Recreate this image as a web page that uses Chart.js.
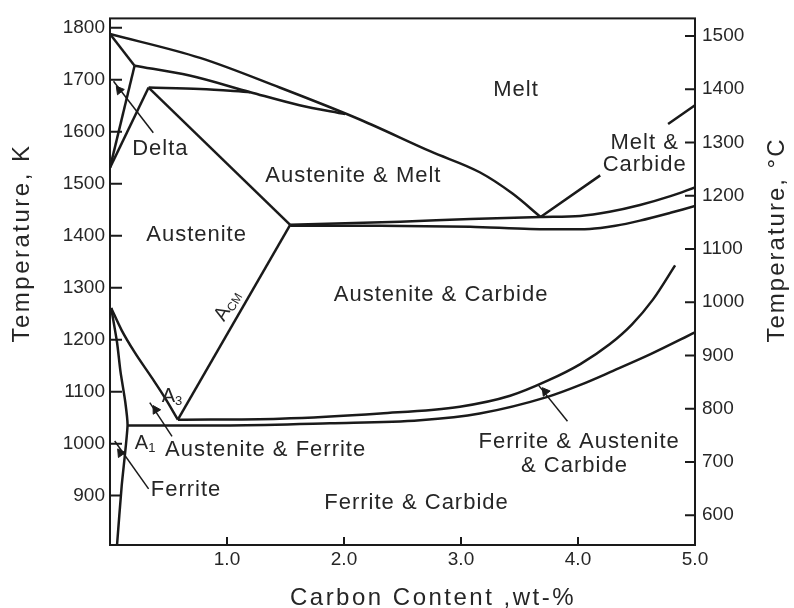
<!DOCTYPE html>
<html>
<head>
<meta charset="utf-8">
<script src="https://cdn.jsdelivr.net/npm/chart.js@4.4.1/dist/chart.umd.min.js"></script>
<style>
  html, body { margin: 0; padding: 0; background: #fff; }
  canvas { display: block; }
</style>
</head>
<body>
<canvas id="phaseChart" width="794" height="608"></canvas>
<script>
// Fe-C phase diagram, lines
// every boundary is a list of [carbon wt-%, temperature K]

const carbonTicks = [1, 2, 3, 4, 5];
const kelvinTicks = [900, 1000, 1100, 1200, 1300, 1400, 1500, 1600, 1700, 1800];
const celsiusTicks = [600, 700, 800, 900, 1000, 1100, 1200, 1300, 1400, 1500];

const liquidus = [[0, 1788], [0.77, 1742], [1.45, 1685], [2.14, 1623], [2.74, 1562], [3.16, 1522], [3.44, 1481], [3.68, 1436]];
const deltaMelt = [[0, 1788], [0.21, 1727]];
const deltaUpper = [[0.21, 1727], [0.68, 1708], [1.2, 1676], [1.62, 1651], [2.01, 1634]];
const peritectic = [[0.33, 1685], [0.77, 1682], [1.2, 1676]];
const deltaLeft = [[0.21, 1727], [0, 1531]];
const deltaRight = [[0.33, 1685], [0, 1531]];
const solidus = [[0.33, 1685], [1.54, 1421]];
const acm = [[1.54, 1421], [0.58, 1046]];
const a3 = [[0.01, 1261], [0.10, 1218], [0.21, 1176], [0.36, 1126], [0.47, 1088], [0.58, 1046]];
const ferriteLine = [[0.01, 1261], [0.06, 1195], [0.09, 1138], [0.13, 1081], [0.15, 1035], [0.10, 919], [0.06, 805]];
const eutecticUpper = [[1.54, 1421], [2.48, 1427], [3.08, 1432], [3.68, 1436], [4.02, 1438], [4.27, 1446], [4.53, 1459], [4.79, 1476], [5.0, 1493]];
const eutecticLower = [[1.54, 1419], [2.31, 1419], [3.08, 1417], [3.59, 1413], [4.10, 1413], [4.32, 1419], [4.53, 1429], [4.79, 1444], [5.0, 1457]];
const carbideLiquidus = [[3.68, 1436], [4.19, 1516], [4.5, null], [4.77, 1615], [5.0, 1651]];
const eutectoidUpper = [[0.58, 1046], [1.45, 1048], [2.31, 1058], [2.99, 1071], [3.42, 1092], [3.74, 1121], [4.02, 1153], [4.27, 1191], [4.46, 1229], [4.64, 1277], [4.83, 1343]];
const eutectoidLower = [[0.15, 1035], [1.03, 1035], [1.88, 1039], [2.65, 1045], [3.16, 1058], [3.74, 1090], [4.02, 1113], [4.30, 1140], [4.62, 1172], [5.0, 1214]];

// leader lines from labels, and their arrow heads
const deltaLeader = [[0.37, 1598], [0.03, 1697]];
const a3Leader = [[0.53, 1014], [0.34, 1079]];
const ferriteLeader = [[0.33, 913], [0.04, 1005]];
const threePhaseLeader = [[3.91, 1043], [3.66, 1113]];
const arrowHeads = [[0.08, 1680], [0.39, 1065], [0.09, 982], [3.72, 1100]];
const arrowAngles = [-38, -31, -35, -37];

const regionLabels = [
  ['Melt', 3.47, 1680],
  ['Delta', 0.43, 1567],
  ['Austenite & Melt', 2.08, 1514],
  ['Melt &', 4.57, 1579],
  ['Carbide', 4.57, 1537],
  ['Austenite', 0.74, 1402],
  ['Austenite & Carbide', 2.83, 1286],
  ['Austenite & Ferrite', 1.33, 988],
  ['Ferrite', 0.65, 910],
  ['Ferrite & Austenite', 4.01, 1003],
  ['& Carbide', 3.97, 957],
  ['Ferrite & Carbide', 2.62, 885]
];
// letter, subscript, x, y, angle
const lineLabels = [
  ['A', '3', 0.53, 1094, 0],
  ['A', '1', 0.30, 1003, 0],
  ['A', 'CM', 0.99, 1267, -60]
];

const xTitle = 'Carbon Content ,wt-%';
const yTitle = 'Temperature, K';
const y2Title = 'Temperature, °C';

const family = '"Liberation Sans", Arial, Helvetica, sans-serif';
const ink = '#1a1a1a';

function boundary(points, tension) {
  return {
    data: points,
    borderColor: ink,
    borderWidth: 2.5,
    pointRadius: 0,
    tension: tension || 0,
    spanGaps: false,
    fill: false
  };
}

// smooth curve that keeps its shape between points (x must increase)
function curve(points) {
  const ds = boundary(points, 0.4);
  ds.cubicInterpolationMode = 'monotone';
  return ds;
}

function leader(points) {
  return { data: points, borderColor: ink, borderWidth: 1.5, pointRadius: 0, fill: false };
}

function setSpacing(ctx, px) {
  if ('letterSpacing' in ctx) ctx.letterSpacing = px + 'px';
}

const overlay = {
  id: 'overlay',
  afterDraw(chart) {
    const { ctx, chartArea: a, scales } = chart;
    const x = scales.x, y = scales.y, y2 = scales.y2;
    ctx.save();

    // frame
    ctx.strokeStyle = ink;
    ctx.lineWidth = 2;
    ctx.strokeRect(a.left, a.top, a.right - a.left, a.bottom - a.top);

    // inward tick marks
    ctx.beginPath();
    y.ticks.forEach(t => {
      const p = y.getPixelForValue(t.value);
      ctx.moveTo(a.left, p); ctx.lineTo(a.left + 12, p);
    });
    y2.ticks.forEach(t => {
      const p = y2.getPixelForValue(t.value);
      ctx.moveTo(a.right, p); ctx.lineTo(a.right - 10, p);
    });
    x.ticks.forEach(t => {
      const p = x.getPixelForValue(t.value);
      ctx.moveTo(p, a.bottom); ctx.lineTo(p, a.bottom - 8);
    });
    ctx.stroke();

    // region names
    ctx.fillStyle = '#262626';
    ctx.textAlign = 'center';
    ctx.textBaseline = 'middle';
    ctx.font = '22px ' + family;
    setSpacing(ctx, 1);
    regionLabels.forEach(l => {
      ctx.fillText(l[0], x.getPixelForValue(l[1]), y.getPixelForValue(l[2]));
    });
    setSpacing(ctx, 0);

    // A1, A3, Acm
    lineLabels.forEach(l => {
      const size = 20;
      const subSize = l[1] === 'CM' ? 12 : 13;
      ctx.save();
      ctx.translate(x.getPixelForValue(l[2]), y.getPixelForValue(l[3]));
      ctx.rotate(l[4] * Math.PI / 180);
      ctx.textAlign = 'left';
      ctx.textBaseline = 'alphabetic';
      ctx.font = size + 'px ' + family;
      const w1 = ctx.measureText(l[0]).width;
      ctx.font = subSize + 'px ' + family;
      const w2 = ctx.measureText(l[1]).width;
      const x0 = -(w1 + w2) / 2;
      ctx.font = size + 'px ' + family;
      ctx.fillText(l[0], x0, size * 0.36);
      ctx.font = subSize + 'px ' + family;
      ctx.fillText(l[1], x0 + w1, size * 0.36 + 3);
      ctx.restore();
    });

    // axis titles
    ctx.font = '24px ' + family;
    ctx.textAlign = 'center';
    ctx.textBaseline = 'alphabetic';
    setSpacing(ctx, 2.5);
    ctx.fillText(xTitle, 433, 605);

    ctx.save();
    ctx.translate(29, 243);
    ctx.rotate(-Math.PI / 2);
    ctx.fillText(yTitle, 0, 0);
    ctx.restore();

    setSpacing(ctx, 2);
    ctx.save();
    ctx.translate(784, 240);
    ctx.rotate(-Math.PI / 2);
    ctx.fillText(y2Title, 0, 0);
    ctx.restore();
    setSpacing(ctx, 0);

    ctx.restore();
  }
};

const tickFont = { family: family, size: 19 };

const datasets = [
  curve(liquidus),
  boundary(deltaMelt),
  curve(deltaUpper),
  curve(peritectic),
  boundary(deltaLeft),
  boundary(deltaRight),
  boundary(solidus),
  boundary(acm),
  curve(a3),
  boundary(ferriteLine, 0.2),
  curve(eutecticUpper),
  boundary(eutecticLower, 0.3),
  boundary(carbideLiquidus),
  curve(eutectoidUpper),
  curve(eutectoidLower),
  leader(deltaLeader),
  leader(a3Leader),
  leader(ferriteLeader),
  leader(threePhaseLeader),
  {
    data: arrowHeads,
    showLine: false,
    pointStyle: 'triangle',
    pointRadius: 5,
    pointRotation: arrowAngles,
    pointBackgroundColor: ink,
    pointBorderColor: ink,
    pointBorderWidth: 1
  }
];

new Chart(document.getElementById('phaseChart'), {
  type: 'line',
  data: { datasets: datasets },
  options: {
    responsive: false,
    animation: false,
    layout: { padding: { top: 12, left: 0, right: 0, bottom: 0 } },
    plugins: {
      legend: { display: false },
      tooltip: { enabled: false }
    },
    scales: {
      x: {
        type: 'linear',
        min: 0,
        max: 5,
        afterBuildTicks: s => { s.ticks = carbonTicks.map(v => ({ value: v })); },
        afterFit: s => { s.height = 63; },
        grid: { display: false, drawTicks: false },
        border: { display: false },
        ticks: {
          font: tickFont,
          color: '#262626',
          padding: 3,
          autoSkip: false,
          maxRotation: 0,
          callback: v => v.toFixed(1)
        }
      },
      y: {
        type: 'linear',
        position: 'left',
        min: 805,
        max: 1818,
        afterBuildTicks: s => { s.ticks = kelvinTicks.map(v => ({ value: v })); },
        afterFit: s => { s.width = 110; },
        grid: { display: false, drawTicks: false },
        border: { display: false },
        ticks: { font: tickFont, color: '#262626', padding: 5, autoSkip: false, callback: v => String(v) }
      },
      y2: {
        type: 'linear',
        position: 'right',
        min: 544,
        max: 1533,
        afterBuildTicks: s => { s.ticks = celsiusTicks.map(v => ({ value: v })); },
        afterFit: s => { s.width = 99; },
        grid: { display: false, drawTicks: false },
        border: { display: false },
        ticks: { font: tickFont, color: '#262626', padding: 7, autoSkip: false, callback: v => String(v) }
      }
    }
  },
  plugins: [overlay]
});
</script>
</body>
</html>
